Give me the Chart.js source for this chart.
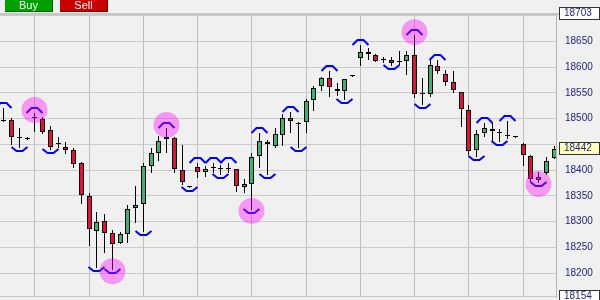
<!DOCTYPE html>
<html><head><meta charset="utf-8">
<script src="https://cdn.jsdelivr.net/npm/chart.js@4.4.1/dist/chart.umd.min.js"></script>
<style>
html,body{margin:0;padding:0;background:#f0f0f0;overflow:hidden}
#wrap{position:relative;width:600px;height:300px}
#c{position:absolute;left:0;top:0}
.btn{position:absolute;top:0;height:11px;width:47px;color:#fff;font:11px "Liberation Sans",Arial,sans-serif;line-height:11px;text-align:center}
</style></head><body>
<div id="wrap"><canvas id="c" width="600" height="300"></canvas>
<div class="btn" style="left:5px;background:#00a000;border-right:1px solid #006800;border-bottom:1px solid #006800">Buy</div>
<div class="btn" style="left:60px;background:#c80000;border-right:1px solid #800000;border-bottom:1px solid #800000">Sell</div>
</div>
<script>
// Candle values (one entry per candle, left to right)
const opens  = [18495,18497,18462,18460,18501,18499,18478,18451,18445,18439,18414,18350,18282,18301,18278,18259,18276,18327,18334,18408,18433,18464,18462,18400,18367,18406,18396,18404,18402,18402,18402,18367,18373,18428,18455,18447,18468,18501,18490,18494,18536,18563,18579,18557,18554,18583,18618,18629,18623,18614,18614,18610,18612,18623,18548,18548,18602,18587,18571,18552,18517,18439,18472,18480,18472,18466,18464,18451,18427,18381,18395,18424];
const highs  = [18521,18501,18482,18464,18511,18503,18486,18464,18455,18443,18416,18356,18319,18315,18284,18280,18333,18369,18414,18443,18466,18482,18464,18449,18369,18414,18408,18414,18410,18414,18402,18383,18433,18472,18459,18482,18509,18513,18494,18538,18563,18581,18592,18569,18577,18583,18643,18637,18625,18620,18620,18631,18631,18662,18579,18614,18614,18594,18592,18552,18526,18478,18492,18492,18480,18495,18464,18453,18429,18396,18426,18447];
const lows   = [18493,18449,18443,18459,18474,18470,18439,18443,18431,18404,18334,18253,18210,18239,18206,18257,18259,18298,18280,18395,18418,18433,18395,18371,18365,18385,18387,18395,18391,18395,18358,18356,18323,18404,18391,18443,18447,18472,18443,18472,18515,18554,18542,18544,18536,18583,18602,18614,18610,18608,18602,18604,18585,18540,18526,18542,18587,18563,18550,18484,18429,18426,18464,18455,18455,18461,18464,18408,18377,18375,18391,18422];
const closes = [18495,18464,18462,18460,18501,18474,18445,18451,18439,18412,18352,18286,18299,18278,18257,18276,18325,18333,18408,18433,18457,18460,18402,18377,18367,18396,18402,18404,18402,18402,18369,18373,18426,18457,18451,18470,18501,18495,18490,18534,18559,18579,18561,18554,18577,18583,18629,18625,18612,18614,18608,18610,18623,18548,18548,18604,18592,18571,18556,18519,18437,18470,18482,18476,18472,18466,18464,18429,18383,18387,18418,18442];

// Fractal markers (candle index, 0-based)
const fractalUp   = [0,4,21,25,27,29,33,37,42,46,53,56,62,65];
const fractalDown = [2,6,12,14,18,24,28,32,34,38,44,50,54,61,64,69];
const highlightUp   = [4,21,53];
const highlightDown = [14,32,69];

// Axis
const gridCandles = [4,11,18,25,32,39,46,53,60,67];
const yMin = 18154, yMax = 18703;
const yTicks = [18200,18250,18300,18350,18400,18450,18500,18550,18600,18650,18700];
const boxLabels = [18703, 18442, 18154];
const lastBox = 18442;

const GREEN = '#3cb371', RED = '#dc143c', NAVY = '#23238c';
const idx = opens.map((_, k) => k);

const snap = {
  id: 'snap',
  afterDatasetsUpdate(chart) {
    chart.data.datasets.forEach((ds, i) => {
      chart.getDatasetMeta(i).data.forEach(el => {
        el.x = Math.floor(el.x) + 0.5;
        let y = Math.round(el.y), b = Math.round(el.base);
        if (y === b) b = y + 1;
        el.y = y; el.base = b;
      });
    });
  }
};

const frame = {
  id: 'frame',
  beforeDatasetsDraw(chart) {
    const ctx = chart.ctx, a = chart.chartArea;
    ctx.save();
    ctx.fillStyle = '#c6c6c6';
    ctx.fillRect(0, a.top - 1, 600, 2);
    ctx.fillRect(0, a.bottom - 1, a.right, 1);
    ctx.restore();
  }
};

const fractals = {
  id: 'fractals',
  afterDatasetsDraw(chart) {
    const ctx = chart.ctx, a = chart.chartArea, ys = chart.scales.y;
    const meta = chart.getDatasetMeta(0);
    ctx.save();
    ctx.beginPath(); ctx.rect(a.left, a.top, a.right - a.left, a.bottom - a.top); ctx.clip();
    ctx.strokeStyle = '#0000ff'; ctx.lineWidth = 2; ctx.lineJoin = 'miter';
    fractalUp.forEach(k => {
      const x = Math.floor(meta.data[k].x) + 0.5, y = Math.round(ys.getPixelForValue(highs[k]));
      ctx.beginPath();
      ctx.moveTo(x - 8, y); ctx.lineTo(x - 3, y - 5); ctx.lineTo(x + 3, y - 5); ctx.lineTo(x + 8, y);
      ctx.stroke();
    });
    fractalDown.forEach(k => {
      const x = Math.floor(meta.data[k].x) + 0.5, y = Math.round(ys.getPixelForValue(lows[k]));
      ctx.beginPath();
      ctx.moveTo(x - 8, y - 1); ctx.lineTo(x - 3, y + 3); ctx.lineTo(x + 3, y + 3); ctx.lineTo(x + 8, y - 1);
      ctx.stroke();
    });
    ctx.fillStyle = 'rgba(255,0,255,0.37)';
    highlightUp.forEach(k => {
      const x = Math.floor(meta.data[k].x) + 0.5, y = ys.getPixelForValue(highs[k]) - 3;
      ctx.beginPath(); ctx.arc(x, y, 13, 0, Math.PI * 2); ctx.fill();
    });
    highlightDown.forEach(k => {
      const x = Math.floor(meta.data[k].x) + 0.5, y = ys.getPixelForValue(lows[k]) + 1;
      ctx.beginPath(); ctx.arc(x, y, 13, 0, Math.PI * 2); ctx.fill();
    });
    ctx.restore();
  },
  afterDraw(chart) {
    const ctx = chart.ctx, ys = chart.scales.y;
    ctx.save();
    ctx.font = '10px "Liberation Sans", Arial, sans-serif';
    ctx.textBaseline = 'middle'; ctx.textAlign = 'left';
    boxLabels.forEach(v => {
      const top = Math.round(ys.getPixelForValue(v)) - 7;
      ctx.fillStyle = v === lastBox ? '#ffffc0' : '#ffffff';
      ctx.fillRect(559, top, 40, 12);
      ctx.strokeStyle = '#333333'; ctx.lineWidth = 1;
      ctx.strokeRect(559.5, top + 0.5, 40, 12);
      ctx.fillStyle = NAVY;
      ctx.fillText(String(v), 564, top + 6.5);
    });
    ctx.restore();
  }
};

new Chart(document.getElementById('c'), {
  type: 'bar',
  data: {
    datasets: [
      {
        label: 'body',
        data: idx.map(k => ({ x: k, y: [opens[k], closes[k]] })),
        backgroundColor: idx.map(k => closes[k] > opens[k] ? GREEN : (closes[k] < opens[k] ? RED : '#000')),
        borderColor: '#000', borderWidth: 1, borderSkipped: false,
        barThickness: 5, minBarLength: 1, grouped: false, inflateAmount: 0, order: 0
      },
      {
        label: 'wick',
        data: idx.map(k => ({ x: k, y: [lows[k], highs[k]] })),
        backgroundColor: '#000', borderWidth: 0,
        barThickness: 1, grouped: false, inflateAmount: 0, order: 1
      }
    ]
  },
  options: {
    responsive: false, animation: false, devicePixelRatio: 1,
    layout: { padding: { top: 14, bottom: 3, left: 0, right: 0 } },
    plugins: { legend: { display: false }, tooltip: { enabled: false } },
    scales: {
      x: {
        type: 'linear', min: -0.516, max: 71.226, offset: false,
        ticks: { display: false },
        afterBuildTicks: s => { s.ticks = gridCandles.map(v => ({ value: v })); },
        grid: { color: '#bebebe', drawTicks: false, offset: false },
        border: { display: false }
      },
      y: {
        position: 'right', min: yMin, max: yMax, beginAtZero: false,
        afterBuildTicks: s => { s.ticks = yTicks.map(v => ({ value: v })); },
        ticks: {
          padding: 9, color: NAVY,
          font: { family: 'Liberation Sans', size: 10 },
          callback: v => boxLabels.some(b => Math.abs(b - v) < 12) ? '' : String(v)
        },
        afterFit: s => { s.width = 44; s.paddingTop = 0; s.paddingBottom = 0; },
        grid: { color: '#cbcbcb', drawTicks: false },
        border: { display: true, color: '#b4b4b4' }
      }
    }
  },
  plugins: [snap, frame, fractals]
});
</script>
</body></html>
